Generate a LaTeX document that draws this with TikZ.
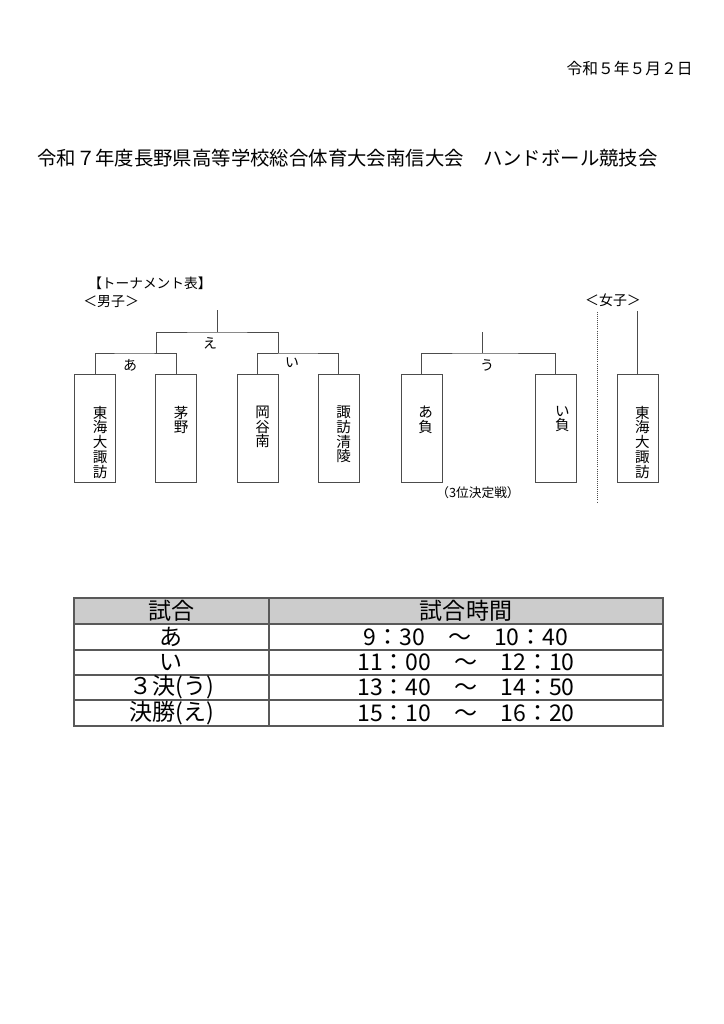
\documentclass[tikz,border=0pt]{standalone}
\usepackage{fontspec}
\newfontfamily\jp{Noto Sans CJK JP}
\usepackage{xcolor}
\usepackage{tikz}
\usetikzlibrary{positioning}

\begin{document}
\begin{tikzpicture}[x=0.290055mm,y=-0.290055mm,font=\jp,
    line/.style={draw=black!70,line width=0.7pt},
    tbl/.style={draw=black!65,line width=1.1pt},
    team/.style={line,minimum width=11.9mm,minimum height=31.3mm,inner sep=0pt},
    tate/.style={align=center,inner sep=0pt,font=\jp\fontsize{12}{12.2}\selectfont},
    game/.style={inner sep=0pt,font=\jp\fontsize{11.5}{12}\selectfont},
    cell/.style={inner sep=0pt,font=\jp\fontsize{19}{21}\selectfont}]
    \useasboundingbox (0,0) rectangle (724,1024);

    \node[anchor=east,font=\jp\fontsize{13}{15}\selectfont] (date) at (697,68) {令和５年５月２日};
    \node[anchor=west,font=\jp\fontsize{16}{18}\selectfont] (title) at (33,158) {令和７年度長野県高等学校総合体育大会南信大会　ハンドボール競技会};

    \node[anchor=west,font=\jp\fontsize{11.3}{12}\selectfont] (hd) at (84,283) {【トーナメント表】};
    \node[anchor=west,font=\jp\fontsize{11.5}{12}\selectfont] (boys) at (79,302) {＜男子＞};
    \node[font=\jp\fontsize{11.5}{12}\selectfont] (girls) at (613,300) {＜女子＞};

    % teams
    \node[team] (t1) at (95,428) {};
    \node[team] (t2) at (176,428) {};
    \node[team] (t3) at (257.5,428) {};
    \node[team] (t4) at (338.5,428) {};
    \node[team] (t5) at (421.5,428) {};
    \node[team] (t6) at (555.5,428) {};
    \node[team] (t7) at (637.5,428) {};

    \node[tate,below=9.3mm of t1.north,xshift=1.5mm] (n1) {東\\海\\大\\諏\\訪};
    \node[tate,below=9.3mm of t2.north,xshift=1.5mm] (n2) {茅\\野};
    \node[tate,below=9.3mm of t3.north,xshift=1.5mm] (n3) {岡\\谷\\南};
    \node[tate,below=9.3mm of t4.north,xshift=1.5mm] (n4) {諏\\訪\\清\\陵};
    \node[tate,below=9.3mm of t5.north,xshift=1.2mm] (n5) {あ\\負};
    \node[tate,below=9.3mm of t6.north,xshift=2mm] (n6) {い\\負};
    \node[tate,below=9.3mm of t7.north,xshift=1.4mm] (n7) {東\\海\\大\\諏\\訪};

    % brackets
    \coordinate (a) at (133,353);
    \coordinate (i) at (298,353);
    \coordinate (e1) at (156,353);
    \coordinate (e2) at (278,353);
    \coordinate (e) at (217,332);
    \coordinate (ef) at (217,310);
    \coordinate (u) at (482,353);
    \coordinate (uf) at (482,332);
    \coordinate (gf) at (637.5,311);
    \coordinate (d1) at (597,312);
    \coordinate (d2) at (597,502);

    \draw[line] (t1.north) |- (a) -| (t2.north);
    \draw[line] (t3.north) |- (i) -| (t4.north);
    \draw[line] (e1) |- (e) -| (e2);
    \draw[line] (e) -- (ef);
    \draw[line] (t5.north) |- (u) -| (t6.north);
    \draw[line] (u) -- (uf);
    \draw[line] (t7.north) -- (gf);
    \draw[line,densely dotted] (d1) -- (d2);

    \node[game] (la) at (130,365) {あ};
    \node[game] (le) at (210,343) {え};
    \node[game] (li) at (292,363) {い};
    \node[game] (lu) at (487,365) {う};
    \node[font=\jp\fontsize{10.5}{12}\selectfont] (third) at (478,493) {（3位決定戦）};

    % table
    \fill[black!20] (74,598) rectangle (663,624);
    \draw[tbl] (74,598) rectangle (663,726);
    \draw[tbl] (74,624) -- (663,624);
    \draw[tbl] (74,650) -- (663,650);
    \draw[tbl] (74,675) -- (663,675);
    \draw[tbl] (74,700) -- (663,700);
    \draw[tbl] (269,598) -- (269,726);

    \node[cell] (h1) at (171.5,611) {試合};
    \node[cell] (h2) at (466,611) {試合時間};
    \node[cell] (g1) at (171.5,637) {あ};
    \node[cell] (g2) at (171.5,662.5) {い};
    \node[cell] (g3) at (171.5,687.5) {３決(う)};
    \node[cell] (g4) at (171.5,713) {決勝(え)};
    \node[cell] (s1) at (466,637) {9：30　～　10：40};
    \node[cell] (s2) at (466,662.5) {11：00　～　12：10};
    \node[cell] (s3) at (466,687.5) {13：40　～　14：50};
    \node[cell] (s4) at (466,713) {15：10　～　16：20};
\end{tikzpicture}
\end{document}
